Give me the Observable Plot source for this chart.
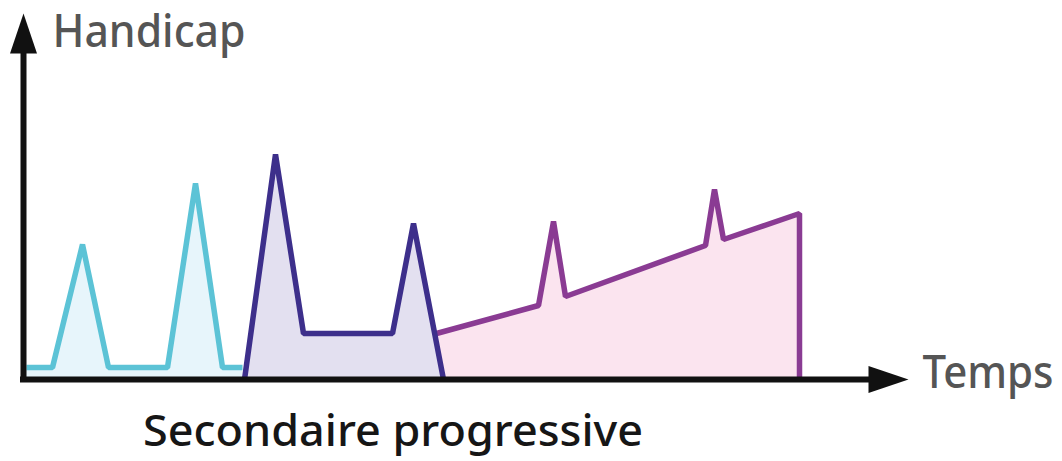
<!DOCTYPE html>
<html><head><meta charset="utf-8">
<script src="https://cdn.jsdelivr.net/npm/d3@7"></script>
<script src="https://cdn.jsdelivr.net/npm/@observablehq/plot@0.6"></script>
<style>body{margin:0;background:#fff;overflow:hidden}</style>
</head><body><div id="chart"></div>
<script>
// Phase 1: relapsing-remitting (cyan)
const rrTime = [0.3, 2.9, 5.9, 8.5, 14.4, 17.2, 19.9, 21.9];
const rrHandicap = [1.2, 1.2, 13.5, 1.2, 1.2, 19.6, 1.2, 1.2];
// Phase 2: relapses with residual handicap (dark indigo)
const relTime = [22.1, 25.2, 28.0, 36.9, 39.0, 42.0];
const relHandicap = [0, 22.5, 4.6, 4.6, 15.6, 0];
// Phase 3: secondary progressive (purple)
const spTime = [41.3, 51.5, 53.0, 54.2, 68.2, 69.1, 70.0, 77.6, 77.6];
const spHandicap = [4.6, 7.4, 15.8, 8.3, 13.4, 19.0, 14.0, 16.6, 0];
// Labels
const yLabel = "Handicap";
const xLabel = "Temps";
const caption = "Secondaire progressive";
const axisXEnd = 85, axisYEnd = 33;

const zip = (t, h) => t.map((d, i) => ({t: d, h: h[i]}));
const rr = zip(rrTime, rrHandicap), rel = zip(relTime, relHandicap), sp = zip(spTime, spHandicap);

const arrowRight = {draw(c) { c.moveTo(0, 0); c.lineTo(-40, -13.5); c.lineTo(-40, 13.5); c.closePath(); }};
const arrowUp = {draw(c) { c.moveTo(0, 0); c.lineTo(-13.5, 40); c.lineTo(13.5, 40); c.closePath(); }};

const lineOpts = {x: "t", y: "h", strokeWidth: 5.5, strokeLinejoin: "bevel", strokeLinecap: "butt"};
const font = "'Noto Sans', 'Open Sans', sans-serif";

const chart = Plot.plot({
  width: 1062, height: 461,
  marginTop: 0, marginRight: 0, marginBottom: 0, marginLeft: 0,
  x: {domain: [-2.3, 103.9], range: [0, 1062], axis: null},
  y: {domain: [-8.2, 37.9], range: [461, 0], axis: null},
  style: {background: "#fff", overflow: "visible"},
  marks: [
    Plot.areaY(sp, {x: "t", y: "h", fill: "#fbe4ef"}),
    Plot.areaY(rel, {x: "t", y: "h", fill: "#e3e0f0"}),
    Plot.areaY(rr, {x: "t", y: "h", fill: "#e7f5fb"}),
    Plot.line(rr, {...lineOpts, stroke: "#5cc3d6"}),
    Plot.line(sp, {...lineOpts, stroke: "#8a3b93"}),
    Plot.line(rel, {...lineOpts, stroke: "#3d2f8b"}),
    Plot.ruleY([{y: 0, x1: -0.3, x2: axisXEnd}], {y: "y", x1: "x1", x2: "x2", stroke: "#111", strokeWidth: 6}),
    Plot.ruleX([{x: 0, y1: -0.3, y2: axisYEnd}], {x: "x", y1: "y1", y2: "y2", stroke: "#111", strokeWidth: 6}),
    Plot.dot([{t: 88.5, h: 0}], {x: "t", y: "h", symbol: arrowRight, fill: "#111", stroke: null}),
    Plot.dot([{t: 0, h: 36.6}], {x: "t", y: "h", symbol: arrowUp, fill: "#111", stroke: null}),
    Plot.text([yLabel], {x: 2.9, y: 34.7, text: d => d, textAnchor: "start", lineAnchor: "middle", fontSize: 45, fontWeight: 500, fill: "#555", fontFamily: font}),
    Plot.text([xLabel], {x: 89.9, y: 0.55, text: d => d, textAnchor: "start", lineAnchor: "middle", fontSize: 45, fontWeight: 500, fill: "#555", fontFamily: font}),
    Plot.text([caption], {x: 36.95, y: -5.25, text: d => d, textAnchor: "middle", lineAnchor: "middle", fontSize: 44, fontWeight: 500, fill: "#161616", fontFamily: font})
  ]
});
document.getElementById("chart").appendChild(chart);
// fit label widths to the reference
const widths = {[yLabel]: 193, [xLabel]: 131, [caption]: 500};
d3.select(chart).selectAll("text").each(function() {
  const w = widths[this.textContent];
  if (w) { this.setAttribute("textLength", w); this.setAttribute("lengthAdjust", "spacingAndGlyphs"); }
});
</script>
</body></html>
